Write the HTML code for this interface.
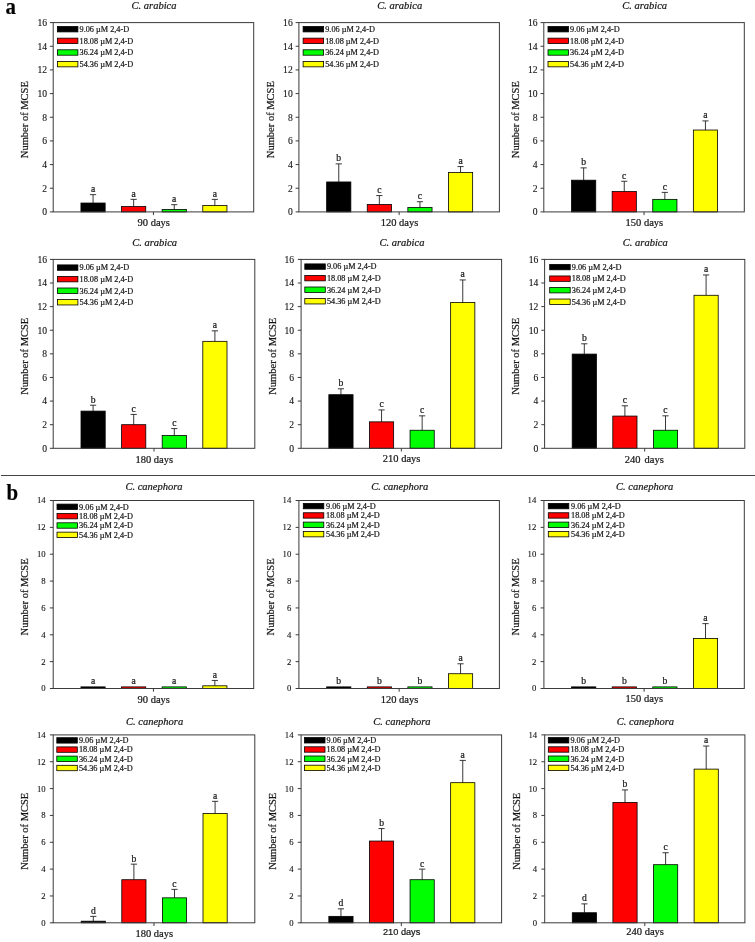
<!DOCTYPE html>
<html><head><meta charset="utf-8"><title>MCSE</title>
<style>html,body{margin:0;padding:0;background:#fff;}svg{display:block;}text{font-family:"Liberation Serif",serif;fill:#111;stroke:#222;stroke-width:0.22px;}.t{font-size:10.5px;}.i{font-style:italic;}.l{font-size:8.25px;}.k{font-size:9.6px;stroke-width:0.12px;}.kb{font-size:8.7px;}.m{font-size:9.6px;}.s{font-family:"Liberation Sans",sans-serif;font-size:9.2px;}.ax{stroke:#3a3a3a;stroke-width:1;fill:none;}.b{stroke:#000;stroke-width:0.8;}.e{stroke:#222;stroke-width:0.9;fill:none;}</style></head><body>
<svg width="755" height="942" viewBox="0 0 755 942">
<rect width="755" height="942" fill="#fff"/>
<line x1="1" y1="475.5" x2="755" y2="475.5" stroke="#444" stroke-width="1"/>
<g>
<path class="e" d="M93.05 203.03V194.63M89.95 194.63H96.15"/>
<rect class="b" x="80.95" y="203.03" width="24.2" height="8.87" fill="#000000"/>
<path class="e" d="M133.65 206.58V199.36M130.55 199.36H136.75"/>
<rect class="b" x="121.55" y="206.58" width="24.2" height="5.32" fill="#ff0000"/>
<path class="e" d="M174.25 209.42V204.68M171.15 204.68H177.35"/>
<rect class="b" x="162.15" y="209.42" width="24.2" height="2.48" fill="#00ff00"/>
<path class="e" d="M214.85 205.51V199.36M211.75 199.36H217.95"/>
<rect class="b" x="202.75" y="205.51" width="24.2" height="6.39" fill="#ffff00"/>
<rect class="ax" x="53.2" y="22.6" width="200.5" height="189.3"/>
<path class="ax" d="M49.9 211.9H53.2M49.9 188.24H53.2M49.9 164.57H53.2M49.9 140.91H53.2M49.9 117.25H53.2M49.9 93.59H53.2M49.9 69.92H53.2M49.9 46.26H53.2M49.9 22.6H53.2M153.45 211.9V215.1"/>
<rect class="b" x="57.4" y="26.5" width="20.5" height="5.4" fill="#000000"/>
<rect class="b" x="57.4" y="38.15" width="20.5" height="5.4" fill="#ff0000"/>
<rect class="b" x="57.4" y="49.8" width="20.5" height="5.4" fill="#00ff00"/>
<rect class="b" x="57.4" y="61.45" width="20.5" height="5.4" fill="#ffff00"/>
</g>
<g>
<path class="e" d="M338.75 181.97V163.87M335.65 163.87H341.85"/>
<rect class="b" x="326.65" y="181.97" width="24.2" height="29.93" fill="#000000"/>
<path class="e" d="M379.35 204.45V195.57M376.25 195.57H382.45"/>
<rect class="b" x="367.25" y="204.45" width="24.2" height="7.45" fill="#ff0000"/>
<path class="e" d="M419.95 207.52V201.73M416.85 201.73H423.05"/>
<rect class="b" x="407.85" y="207.52" width="24.2" height="4.38" fill="#00ff00"/>
<path class="e" d="M460.55 172.5V166.59M457.45 166.59H463.65"/>
<rect class="b" x="448.45" y="172.5" width="24.2" height="39.4" fill="#ffff00"/>
<rect class="ax" x="298.9" y="22.6" width="200.5" height="189.3"/>
<path class="ax" d="M295.6 211.9H298.9M295.6 188.24H298.9M295.6 164.57H298.9M295.6 140.91H298.9M295.6 117.25H298.9M295.6 93.59H298.9M295.6 69.92H298.9M295.6 46.26H298.9M295.6 22.6H298.9M399.15 211.9V215.1"/>
<rect class="b" x="303.1" y="26.5" width="20.5" height="5.4" fill="#000000"/>
<rect class="b" x="303.1" y="38.15" width="20.5" height="5.4" fill="#ff0000"/>
<rect class="b" x="303.1" y="49.8" width="20.5" height="5.4" fill="#00ff00"/>
<rect class="b" x="303.1" y="61.45" width="20.5" height="5.4" fill="#ffff00"/>
</g>
<g>
<path class="e" d="M583.65 180.19V167.89M580.55 167.89H586.75"/>
<rect class="b" x="571.55" y="180.19" width="24.2" height="31.71" fill="#000000"/>
<path class="e" d="M624.25 191.55V181.26M621.15 181.26H627.35"/>
<rect class="b" x="612.15" y="191.55" width="24.2" height="20.35" fill="#ff0000"/>
<path class="e" d="M664.85 199.36V192.38M661.75 192.38H667.95"/>
<rect class="b" x="652.75" y="199.36" width="24.2" height="12.54" fill="#00ff00"/>
<path class="e" d="M705.45 130.03V120.92M702.35 120.92H708.55"/>
<rect class="b" x="693.35" y="130.03" width="24.2" height="81.87" fill="#ffff00"/>
<rect class="ax" x="543.8" y="22.6" width="200.5" height="189.3"/>
<path class="ax" d="M540.5 211.9H543.8M540.5 188.24H543.8M540.5 164.57H543.8M540.5 140.91H543.8M540.5 117.25H543.8M540.5 93.59H543.8M540.5 69.92H543.8M540.5 46.26H543.8M540.5 22.6H543.8M644.05 211.9V215.1"/>
<rect class="b" x="548" y="26.5" width="20.5" height="5.4" fill="#000000"/>
<rect class="b" x="548" y="38.15" width="20.5" height="5.4" fill="#ff0000"/>
<rect class="b" x="548" y="49.8" width="20.5" height="5.4" fill="#00ff00"/>
<rect class="b" x="548" y="61.45" width="20.5" height="5.4" fill="#ffff00"/>
</g>
<g>
<path class="e" d="M93.1 411.11V405.21M90 405.21H96.2"/>
<rect class="b" x="81" y="411.11" width="24.2" height="37.19" fill="#000000"/>
<path class="e" d="M133.7 424.69V414.42M130.6 414.42H136.8"/>
<rect class="b" x="121.6" y="424.69" width="24.2" height="23.61" fill="#ff0000"/>
<path class="e" d="M174.3 435.55V428.58M171.2 428.58H177.4"/>
<rect class="b" x="162.2" y="435.55" width="24.2" height="12.75" fill="#00ff00"/>
<path class="e" d="M214.9 341.34V330.83M211.8 330.83H218"/>
<rect class="b" x="202.8" y="341.34" width="24.2" height="106.96" fill="#ffff00"/>
<rect class="ax" x="53.2" y="259.4" width="201.6" height="188.9"/>
<path class="ax" d="M49.9 448.3H53.2M49.9 424.69H53.2M49.9 401.07H53.2M49.9 377.46H53.2M49.9 353.85H53.2M49.9 330.24H53.2M49.9 306.62H53.2M49.9 283.01H53.2M49.9 259.4H53.2M154 448.3V451.5"/>
<rect class="b" x="57.4" y="264.9" width="20.5" height="5.4" fill="#000000"/>
<rect class="b" x="57.4" y="276.45" width="20.5" height="5.4" fill="#ff0000"/>
<rect class="b" x="57.4" y="288" width="20.5" height="5.4" fill="#00ff00"/>
<rect class="b" x="57.4" y="299.55" width="20.5" height="5.4" fill="#ffff00"/>
</g>
<g>
<path class="e" d="M340.95 394.7V388.8M337.85 388.8H344.05"/>
<rect class="b" x="328.85" y="394.7" width="24.2" height="53.6" fill="#000000"/>
<path class="e" d="M381.55 421.85V409.93M378.45 409.93H384.65"/>
<rect class="b" x="369.45" y="421.85" width="24.2" height="26.45" fill="#ff0000"/>
<path class="e" d="M422.15 430.24V415.83M419.05 415.83H425.25"/>
<rect class="b" x="410.05" y="430.24" width="24.2" height="18.06" fill="#00ff00"/>
<path class="e" d="M462.75 302.49V279.94M459.65 279.94H465.85"/>
<rect class="b" x="450.65" y="302.49" width="24.2" height="145.81" fill="#ffff00"/>
<rect class="ax" x="301.1" y="259.4" width="200.5" height="188.9"/>
<path class="ax" d="M297.8 448.3H301.1M297.8 424.69H301.1M297.8 401.07H301.1M297.8 377.46H301.1M297.8 353.85H301.1M297.8 330.24H301.1M297.8 306.62H301.1M297.8 283.01H301.1M297.8 259.4H301.1M401.35 448.3V451.5"/>
<rect class="b" x="304.8" y="263.9" width="20.5" height="5.4" fill="#000000"/>
<rect class="b" x="304.8" y="275.45" width="20.5" height="5.4" fill="#ff0000"/>
<rect class="b" x="304.8" y="287" width="20.5" height="5.4" fill="#00ff00"/>
<rect class="b" x="304.8" y="298.55" width="20.5" height="5.4" fill="#ffff00"/>
</g>
<g>
<path class="e" d="M584.3 354.09V343.81M581.2 343.81H587.4"/>
<rect class="b" x="572.2" y="354.09" width="24.2" height="94.21" fill="#000000"/>
<path class="e" d="M624.9 416.07V405.8M621.8 405.8H628"/>
<rect class="b" x="612.8" y="416.07" width="24.2" height="32.23" fill="#ff0000"/>
<path class="e" d="M665.5 430.24V415.83M662.4 415.83H668.6"/>
<rect class="b" x="653.4" y="430.24" width="24.2" height="18.06" fill="#00ff00"/>
<path class="e" d="M706.1 295.29V274.98M703 274.98H709.2"/>
<rect class="b" x="694" y="295.29" width="24.2" height="153.01" fill="#ffff00"/>
<rect class="ax" x="544.6" y="259.4" width="200.2" height="188.9"/>
<path class="ax" d="M541.3 448.3H544.6M541.3 424.69H544.6M541.3 401.07H544.6M541.3 377.46H544.6M541.3 353.85H544.6M541.3 330.24H544.6M541.3 306.62H544.6M541.3 283.01H544.6M541.3 259.4H544.6M644.7 448.3V451.5"/>
<rect class="b" x="549.7" y="264.4" width="20.5" height="5.4" fill="#000000"/>
<rect class="b" x="549.7" y="275.95" width="20.5" height="5.4" fill="#ff0000"/>
<rect class="b" x="549.7" y="287.5" width="20.5" height="5.4" fill="#00ff00"/>
<rect class="b" x="549.7" y="299.05" width="20.5" height="5.4" fill="#ffff00"/>
</g>
<g>
<rect class="b" x="80.95" y="686.89" width="24.2" height="1.61" fill="#000000"/>
<rect class="b" x="121.55" y="686.89" width="24.2" height="1.61" fill="#ff0000"/>
<rect class="b" x="162.15" y="686.89" width="24.2" height="1.61" fill="#00ff00"/>
<path class="e" d="M214.85 685.81V680.44M211.75 680.44H217.95"/>
<rect class="b" x="202.75" y="685.81" width="24.2" height="2.69" fill="#ffff00"/>
<rect class="ax" x="53.2" y="500.5" width="200.5" height="188"/>
<path class="ax" d="M49.9 688.5H53.2M49.9 661.64H53.2M49.9 634.79H53.2M49.9 607.93H53.2M49.9 581.07H53.2M49.9 554.21H53.2M49.9 527.36H53.2M49.9 500.5H53.2M153.45 688.5V691.7"/>
<rect class="b" x="57" y="504.1" width="20.5" height="5.4" fill="#000000"/>
<rect class="b" x="57" y="513.45" width="20.5" height="5.4" fill="#ff0000"/>
<rect class="b" x="57" y="522.8" width="20.5" height="5.4" fill="#00ff00"/>
<rect class="b" x="57" y="532.15" width="20.5" height="5.4" fill="#ffff00"/>
</g>
<g>
<rect class="b" x="326.65" y="686.89" width="24.2" height="1.61" fill="#000000"/>
<rect class="b" x="367.25" y="686.89" width="24.2" height="1.61" fill="#ff0000"/>
<rect class="b" x="407.85" y="686.89" width="24.2" height="1.61" fill="#00ff00"/>
<path class="e" d="M460.55 673.73V663.79M457.45 663.79H463.65"/>
<rect class="b" x="448.45" y="673.73" width="24.2" height="14.77" fill="#ffff00"/>
<rect class="ax" x="298.9" y="500.5" width="200.5" height="188"/>
<path class="ax" d="M295.6 688.5H298.9M295.6 661.64H298.9M295.6 634.79H298.9M295.6 607.93H298.9M295.6 581.07H298.9M295.6 554.21H298.9M295.6 527.36H298.9M295.6 500.5H298.9M399.15 688.5V691.7"/>
<rect class="b" x="303.3" y="503.4" width="20.5" height="5.4" fill="#000000"/>
<rect class="b" x="303.3" y="512.75" width="20.5" height="5.4" fill="#ff0000"/>
<rect class="b" x="303.3" y="522.1" width="20.5" height="5.4" fill="#00ff00"/>
<rect class="b" x="303.3" y="531.45" width="20.5" height="5.4" fill="#ffff00"/>
</g>
<g>
<rect class="b" x="571.6" y="686.89" width="24.2" height="1.61" fill="#000000"/>
<rect class="b" x="612.2" y="686.89" width="24.2" height="1.61" fill="#ff0000"/>
<rect class="b" x="652.8" y="686.89" width="24.2" height="1.61" fill="#00ff00"/>
<path class="e" d="M705.5 638.41V623.64M702.4 623.64H708.6"/>
<rect class="b" x="693.4" y="638.41" width="24.2" height="50.09" fill="#ffff00"/>
<rect class="ax" x="543.9" y="500.5" width="200.4" height="188"/>
<path class="ax" d="M540.6 688.5H543.9M540.6 661.64H543.9M540.6 634.79H543.9M540.6 607.93H543.9M540.6 581.07H543.9M540.6 554.21H543.9M540.6 527.36H543.9M540.6 500.5H543.9M644.1 688.5V691.7"/>
<rect class="b" x="548.3" y="503.4" width="20.5" height="5.4" fill="#000000"/>
<rect class="b" x="548.3" y="512.75" width="20.5" height="5.4" fill="#ff0000"/>
<rect class="b" x="548.3" y="522.1" width="20.5" height="5.4" fill="#00ff00"/>
<rect class="b" x="548.3" y="531.45" width="20.5" height="5.4" fill="#ffff00"/>
</g>
<g>
<path class="e" d="M93.3 921.19V916.36M90.2 916.36H96.4"/>
<rect class="b" x="81.2" y="921.19" width="24.2" height="1.61" fill="#000000"/>
<path class="e" d="M133.9 879.72V864.15M130.8 864.15H137"/>
<rect class="b" x="121.8" y="879.72" width="24.2" height="43.08" fill="#ff0000"/>
<path class="e" d="M174.5 897.84V889.38M171.4 889.38H177.6"/>
<rect class="b" x="162.4" y="897.84" width="24.2" height="24.96" fill="#00ff00"/>
<path class="e" d="M215.1 813.55V801.34M212 801.34H218.2"/>
<rect class="b" x="203" y="813.55" width="24.2" height="109.25" fill="#ffff00"/>
<rect class="ax" x="53.2" y="734.9" width="201.6" height="187.9"/>
<path class="ax" d="M49.9 922.8H53.2M49.9 895.96H53.2M49.9 869.11H53.2M49.9 842.27H53.2M49.9 815.43H53.2M49.9 788.59H53.2M49.9 761.74H53.2M49.9 734.9H53.2M154 922.8V926"/>
<rect class="b" x="56.8" y="737.7" width="20.5" height="5.4" fill="#000000"/>
<rect class="b" x="56.8" y="746.9" width="20.5" height="5.4" fill="#ff0000"/>
<rect class="b" x="56.8" y="756.1" width="20.5" height="5.4" fill="#00ff00"/>
<rect class="b" x="56.8" y="765.3" width="20.5" height="5.4" fill="#ffff00"/>
</g>
<g>
<path class="e" d="M340.95 916.36V908.84M337.85 908.84H344.05"/>
<rect class="b" x="328.85" y="916.36" width="24.2" height="6.44" fill="#000000"/>
<path class="e" d="M381.55 841.06V828.58M378.45 828.58H384.65"/>
<rect class="b" x="369.45" y="841.06" width="24.2" height="81.74" fill="#ff0000"/>
<path class="e" d="M422.15 879.72V869.11M419.05 869.11H425.25"/>
<rect class="b" x="410.05" y="879.72" width="24.2" height="43.08" fill="#00ff00"/>
<path class="e" d="M462.75 782.68V760.4M459.65 760.4H465.85"/>
<rect class="b" x="450.65" y="782.68" width="24.2" height="140.12" fill="#ffff00"/>
<rect class="ax" x="301.1" y="734.9" width="200.5" height="187.9"/>
<path class="ax" d="M297.8 922.8H301.1M297.8 895.96H301.1M297.8 869.11H301.1M297.8 842.27H301.1M297.8 815.43H301.1M297.8 788.59H301.1M297.8 761.74H301.1M297.8 734.9H301.1M401.35 922.8V926"/>
<rect class="b" x="304.5" y="737.6" width="20.5" height="5.4" fill="#000000"/>
<rect class="b" x="304.5" y="746.8" width="20.5" height="5.4" fill="#ff0000"/>
<rect class="b" x="304.5" y="756" width="20.5" height="5.4" fill="#00ff00"/>
<rect class="b" x="304.5" y="765.2" width="20.5" height="5.4" fill="#ffff00"/>
</g>
<g>
<path class="e" d="M584.4 912.73V903.88M581.3 903.88H587.5"/>
<rect class="b" x="572.3" y="912.73" width="24.2" height="10.07" fill="#000000"/>
<path class="e" d="M625 802.41V789.93M621.9 789.93H628.1"/>
<rect class="b" x="612.9" y="802.41" width="24.2" height="120.39" fill="#ff0000"/>
<path class="e" d="M665.6 864.69V852.74M662.5 852.74H668.7"/>
<rect class="b" x="653.5" y="864.69" width="24.2" height="58.11" fill="#00ff00"/>
<path class="e" d="M706.2 769.12V746.04M703.1 746.04H709.3"/>
<rect class="b" x="694.1" y="769.12" width="24.2" height="153.68" fill="#ffff00"/>
<rect class="ax" x="544.7" y="734.9" width="200.2" height="187.9"/>
<path class="ax" d="M541.4 922.8H544.7M541.4 895.96H544.7M541.4 869.11H544.7M541.4 842.27H544.7M541.4 815.43H544.7M541.4 788.59H544.7M541.4 761.74H544.7M541.4 734.9H544.7M644.8 922.8V926"/>
<rect class="b" x="548.3" y="737.6" width="20.5" height="5.4" fill="#000000"/>
<rect class="b" x="548.3" y="746.8" width="20.5" height="5.4" fill="#ff0000"/>
<rect class="b" x="548.3" y="756" width="20.5" height="5.4" fill="#00ff00"/>
<rect class="b" x="548.3" y="765.2" width="20.5" height="5.4" fill="#ffff00"/>
</g>
<g style="filter:grayscale(1)">
<text transform="translate(5.6 13.8) scale(0.95 1.08)" style="font-size:22px;font-weight:bold;fill:#000">a</text>
<text transform="translate(6.6 500.4) scale(0.95 1.07)" style="font-size:22px;font-weight:bold;fill:#000">b</text>
<text class="t i" text-anchor="middle" x="154.05" y="9.2">C. arabica</text>
<text class="t" text-anchor="middle" transform="translate(28 119.65) rotate(-90)">Number of MCSE</text>
<text class="m" text-anchor="middle" x="93.05" y="192.03">a</text>
<text class="m" text-anchor="middle" x="133.65" y="196.76">a</text>
<text class="m" text-anchor="middle" x="174.25" y="202.08">a</text>
<text class="m" text-anchor="middle" x="214.85" y="196.76">a</text>
<text class="k" text-anchor="end" x="47" y="215.2">0</text>
<text class="k" text-anchor="end" x="47" y="191.54">2</text>
<text class="k" text-anchor="end" x="47" y="167.88">4</text>
<text class="k" text-anchor="end" x="47" y="144.21">6</text>
<text class="k" text-anchor="end" x="47" y="120.55">8</text>
<text class="k" text-anchor="end" x="47" y="96.89">10</text>
<text class="k" text-anchor="end" x="47" y="73.22">12</text>
<text class="k" text-anchor="end" x="47" y="49.56">14</text>
<text class="k" text-anchor="end" x="47" y="25.9">16</text>
<text class="t" text-anchor="middle" x="153.75" y="226.4">90 days</text>
<text class="l" x="79.5" y="32">9.06 µM 2,4-D</text>
<text class="l" x="79.5" y="43.65">18.08 µM 2,4-D</text>
<text class="l" x="79.5" y="55.3">36.24 µM 2,4-D</text>
<text class="l" x="79.5" y="66.95">54.36 µM 2,4-D</text>
<text class="t i" text-anchor="middle" x="399.75" y="9.2">C. arabica</text>
<text class="t" text-anchor="middle" transform="translate(273.7 119.65) rotate(-90)">Number of MCSE</text>
<text class="m" text-anchor="middle" x="338.75" y="161.27">b</text>
<text class="m" text-anchor="middle" x="379.35" y="192.97">c</text>
<text class="m" text-anchor="middle" x="419.95" y="199.13">c</text>
<text class="m" text-anchor="middle" x="460.55" y="163.99">a</text>
<text class="k" text-anchor="end" x="292.7" y="215.2">0</text>
<text class="k" text-anchor="end" x="292.7" y="191.54">2</text>
<text class="k" text-anchor="end" x="292.7" y="167.88">4</text>
<text class="k" text-anchor="end" x="292.7" y="144.21">6</text>
<text class="k" text-anchor="end" x="292.7" y="120.55">8</text>
<text class="k" text-anchor="end" x="292.7" y="96.89">10</text>
<text class="k" text-anchor="end" x="292.7" y="73.22">12</text>
<text class="k" text-anchor="end" x="292.7" y="49.56">14</text>
<text class="k" text-anchor="end" x="292.7" y="25.9">16</text>
<text class="t" text-anchor="middle" x="399.45" y="226.4">120 days</text>
<text class="l" x="325.2" y="32">9.06 µM 2,4-D</text>
<text class="l" x="325.2" y="43.65">18.08 µM 2,4-D</text>
<text class="l" x="325.2" y="55.3">36.24 µM 2,4-D</text>
<text class="l" x="325.2" y="66.95">54.36 µM 2,4-D</text>
<text class="t i" text-anchor="middle" x="644.65" y="9.2">C. arabica</text>
<text class="t" text-anchor="middle" transform="translate(518.6 119.65) rotate(-90)">Number of MCSE</text>
<text class="m" text-anchor="middle" x="583.65" y="165.29">b</text>
<text class="m" text-anchor="middle" x="624.25" y="178.66">c</text>
<text class="m" text-anchor="middle" x="664.85" y="189.78">c</text>
<text class="m" text-anchor="middle" x="705.45" y="118.32">a</text>
<text class="k" text-anchor="end" x="537.6" y="215.2">0</text>
<text class="k" text-anchor="end" x="537.6" y="191.54">2</text>
<text class="k" text-anchor="end" x="537.6" y="167.88">4</text>
<text class="k" text-anchor="end" x="537.6" y="144.21">6</text>
<text class="k" text-anchor="end" x="537.6" y="120.55">8</text>
<text class="k" text-anchor="end" x="537.6" y="96.89">10</text>
<text class="k" text-anchor="end" x="537.6" y="73.22">12</text>
<text class="k" text-anchor="end" x="537.6" y="49.56">14</text>
<text class="k" text-anchor="end" x="537.6" y="25.9">16</text>
<text class="t" text-anchor="middle" x="644.35" y="226.4">150 days</text>
<text class="l" x="570.1" y="32">9.06 µM 2,4-D</text>
<text class="l" x="570.1" y="43.65">18.08 µM 2,4-D</text>
<text class="l" x="570.1" y="55.3">36.24 µM 2,4-D</text>
<text class="l" x="570.1" y="66.95">54.36 µM 2,4-D</text>
<text class="t i" text-anchor="middle" x="154.6" y="245.6">C. arabica</text>
<text class="t" text-anchor="middle" transform="translate(28 356.25) rotate(-90)">Number of MCSE</text>
<text class="m" text-anchor="middle" x="93.1" y="402.61">b</text>
<text class="m" text-anchor="middle" x="133.7" y="411.82">c</text>
<text class="m" text-anchor="middle" x="174.3" y="425.98">c</text>
<text class="m" text-anchor="middle" x="214.9" y="328.23">a</text>
<text class="k" text-anchor="end" x="47" y="451.6">0</text>
<text class="k" text-anchor="end" x="47" y="427.99">2</text>
<text class="k" text-anchor="end" x="47" y="404.38">4</text>
<text class="k" text-anchor="end" x="47" y="380.76">6</text>
<text class="k" text-anchor="end" x="47" y="357.15">8</text>
<text class="k" text-anchor="end" x="47" y="333.54">10</text>
<text class="k" text-anchor="end" x="47" y="309.93">12</text>
<text class="k" text-anchor="end" x="47" y="286.31">14</text>
<text class="k" text-anchor="end" x="47" y="262.7">16</text>
<text class="t" text-anchor="middle" x="154.3" y="462.6">180 days</text>
<text class="l" x="79.5" y="270.4">9.06 µM 2,4-D</text>
<text class="l" x="79.5" y="281.95">18.08 µM 2,4-D</text>
<text class="l" x="79.5" y="293.5">36.24 µM 2,4-D</text>
<text class="l" x="79.5" y="305.05">54.36 µM 2,4-D</text>
<text class="t i" text-anchor="middle" x="401.95" y="245.6">C. arabica</text>
<text class="t" text-anchor="middle" transform="translate(275.9 356.25) rotate(-90)">Number of MCSE</text>
<text class="m" text-anchor="middle" x="340.95" y="386.2">b</text>
<text class="m" text-anchor="middle" x="381.55" y="407.33">c</text>
<text class="m" text-anchor="middle" x="422.15" y="413.23">c</text>
<text class="m" text-anchor="middle" x="462.75" y="277.34">a</text>
<text class="k" text-anchor="end" x="294.1" y="451.6">0</text>
<text class="k" text-anchor="end" x="294.1" y="427.99">2</text>
<text class="k" text-anchor="end" x="294.1" y="404.38">4</text>
<text class="k" text-anchor="end" x="294.1" y="380.76">6</text>
<text class="k" text-anchor="end" x="294.1" y="357.15">8</text>
<text class="k" text-anchor="end" x="294.1" y="333.54">10</text>
<text class="k" text-anchor="end" x="294.1" y="309.93">12</text>
<text class="k" text-anchor="end" x="294.1" y="286.31">14</text>
<text class="k" text-anchor="end" x="294.1" y="262.7">16</text>
<text class="t" text-anchor="middle" x="401.65" y="462.1">210 days</text>
<text class="l" x="326.9" y="269.4">9.06 µM 2,4-D</text>
<text class="l" x="326.9" y="280.95">18.08 µM 2,4-D</text>
<text class="l" x="326.9" y="292.5">36.24 µM 2,4-D</text>
<text class="l" x="326.9" y="304.05">54.36 µM 2,4-D</text>
<text class="t i" text-anchor="middle" x="645.3" y="245.6">C. arabica</text>
<text class="t" text-anchor="middle" transform="translate(519.4 356.25) rotate(-90)">Number of MCSE</text>
<text class="m" text-anchor="middle" x="584.3" y="341.21">b</text>
<text class="m" text-anchor="middle" x="624.9" y="403.2">c</text>
<text class="m" text-anchor="middle" x="665.5" y="413.23">c</text>
<text class="m" text-anchor="middle" x="706.1" y="272.38">a</text>
<text class="k" text-anchor="end" x="538.4" y="451.6">0</text>
<text class="k" text-anchor="end" x="538.4" y="427.99">2</text>
<text class="k" text-anchor="end" x="538.4" y="404.38">4</text>
<text class="k" text-anchor="end" x="538.4" y="380.76">6</text>
<text class="k" text-anchor="end" x="538.4" y="357.15">8</text>
<text class="k" text-anchor="end" x="538.4" y="333.54">10</text>
<text class="k" text-anchor="end" x="538.4" y="309.93">12</text>
<text class="k" text-anchor="end" x="538.4" y="286.31">14</text>
<text class="k" text-anchor="end" x="538.4" y="262.7">16</text>
<text class="t" text-anchor="middle" style="word-spacing:1.4px" x="644.3" y="462.6">240 days</text>
<text class="l" x="571.8" y="269.9">9.06 µM 2,4-D</text>
<text class="l" x="571.8" y="281.45">18.08 µM 2,4-D</text>
<text class="l" x="571.8" y="293">36.24 µM 2,4-D</text>
<text class="l" x="571.8" y="304.55">54.36 µM 2,4-D</text>
<text class="t i" text-anchor="middle" x="154.05" y="490">C. canephora</text>
<text class="t" text-anchor="middle" transform="translate(28 596.9) rotate(-90)">Number of MCSE</text>
<text class="m" text-anchor="middle" x="93.05" y="683.79">a</text>
<text class="m" text-anchor="middle" x="133.65" y="683.79">a</text>
<text class="m" text-anchor="middle" x="174.25" y="683.79">a</text>
<text class="m" text-anchor="middle" x="214.85" y="677.84">a</text>
<text class="k kb" text-anchor="end" x="45.6" y="691.45">0</text>
<text class="k kb" text-anchor="end" x="45.6" y="664.59">2</text>
<text class="k kb" text-anchor="end" x="45.6" y="637.74">4</text>
<text class="k kb" text-anchor="end" x="45.6" y="610.88">6</text>
<text class="k kb" text-anchor="end" x="45.6" y="584.02">8</text>
<text class="k kb" text-anchor="end" x="45.6" y="557.16">10</text>
<text class="k kb" text-anchor="end" x="45.6" y="530.31">12</text>
<text class="k kb" text-anchor="end" x="45.6" y="503.45">14</text>
<text class="t" text-anchor="middle" x="153.75" y="702.5">90 days</text>
<text class="l" x="79.1" y="509.6">9.06 µM 2,4-D</text>
<text class="l" x="79.1" y="518.95">18.08 µM 2,4-D</text>
<text class="l" x="79.1" y="528.3">36.24 µM 2,4-D</text>
<text class="l" x="79.1" y="537.65">54.36 µM 2,4-D</text>
<text class="t i" text-anchor="middle" x="399.75" y="490">C. canephora</text>
<text class="t" text-anchor="middle" transform="translate(273.7 596.9) rotate(-90)">Number of MCSE</text>
<text class="m" text-anchor="middle" x="338.75" y="683.79">b</text>
<text class="m" text-anchor="middle" x="379.35" y="683.79">b</text>
<text class="m" text-anchor="middle" x="419.95" y="683.79">b</text>
<text class="m" text-anchor="middle" x="460.55" y="661.19">a</text>
<text class="k kb" text-anchor="end" x="291.3" y="691.45">0</text>
<text class="k kb" text-anchor="end" x="291.3" y="664.59">2</text>
<text class="k kb" text-anchor="end" x="291.3" y="637.74">4</text>
<text class="k kb" text-anchor="end" x="291.3" y="610.88">6</text>
<text class="k kb" text-anchor="end" x="291.3" y="584.02">8</text>
<text class="k kb" text-anchor="end" x="291.3" y="557.16">10</text>
<text class="k kb" text-anchor="end" x="291.3" y="530.31">12</text>
<text class="k kb" text-anchor="end" x="291.3" y="503.45">14</text>
<text class="t" text-anchor="middle" x="399.45" y="702.5">120 days</text>
<text class="l" x="326" y="508.9">9.06 µM 2,4-D</text>
<text class="l" x="326" y="518.25">18.08 µM 2,4-D</text>
<text class="l" x="326" y="527.6">36.24 µM 2,4-D</text>
<text class="l" x="326" y="536.95">54.36 µM 2,4-D</text>
<text class="t i" text-anchor="middle" x="644.7" y="490">C. canephora</text>
<text class="t" text-anchor="middle" transform="translate(518.7 596.9) rotate(-90)">Number of MCSE</text>
<text class="m" text-anchor="middle" x="583.7" y="683.79">b</text>
<text class="m" text-anchor="middle" x="624.3" y="683.79">b</text>
<text class="m" text-anchor="middle" x="664.9" y="683.79">b</text>
<text class="m" text-anchor="middle" x="705.5" y="621.04">a</text>
<text class="k kb" text-anchor="end" x="536.3" y="691.45">0</text>
<text class="k kb" text-anchor="end" x="536.3" y="664.59">2</text>
<text class="k kb" text-anchor="end" x="536.3" y="637.74">4</text>
<text class="k kb" text-anchor="end" x="536.3" y="610.88">6</text>
<text class="k kb" text-anchor="end" x="536.3" y="584.02">8</text>
<text class="k kb" text-anchor="end" x="536.3" y="557.16">10</text>
<text class="k kb" text-anchor="end" x="536.3" y="530.31">12</text>
<text class="k kb" text-anchor="end" x="536.3" y="503.45">14</text>
<text class="t" text-anchor="middle" x="644.4" y="702.1">150 days</text>
<text class="l" x="571" y="508.9">9.06 µM 2,4-D</text>
<text class="l" x="571" y="518.25">18.08 µM 2,4-D</text>
<text class="l" x="571" y="527.6">36.24 µM 2,4-D</text>
<text class="l" x="571" y="536.95">54.36 µM 2,4-D</text>
<text class="t i" text-anchor="middle" x="154.6" y="724.9">C. canephora</text>
<text class="t" text-anchor="middle" transform="translate(28 831.25) rotate(-90)">Number of MCSE</text>
<text class="m" text-anchor="middle" x="93.3" y="913.76">d</text>
<text class="m" text-anchor="middle" x="133.9" y="861.55">b</text>
<text class="m" text-anchor="middle" x="174.5" y="886.78">c</text>
<text class="m" text-anchor="middle" x="215.1" y="798.74">a</text>
<text class="k kb" text-anchor="end" x="45.6" y="925.75">0</text>
<text class="k kb" text-anchor="end" x="45.6" y="898.91">2</text>
<text class="k kb" text-anchor="end" x="45.6" y="872.06">4</text>
<text class="k kb" text-anchor="end" x="45.6" y="845.22">6</text>
<text class="k kb" text-anchor="end" x="45.6" y="818.38">8</text>
<text class="k kb" text-anchor="end" x="45.6" y="791.54">10</text>
<text class="k kb" text-anchor="end" x="45.6" y="764.69">12</text>
<text class="k kb" text-anchor="end" x="45.6" y="737.85">14</text>
<text class="t" text-anchor="middle" x="154.3" y="936.5">180 days</text>
<text class="l" x="78.9" y="743.2">9.06 µM 2,4-D</text>
<text class="l" x="78.9" y="752.4">18.08 µM 2,4-D</text>
<text class="l" x="78.9" y="761.6">36.24 µM 2,4-D</text>
<text class="l" x="78.9" y="770.8">54.36 µM 2,4-D</text>
<text class="t i" text-anchor="middle" x="401.95" y="724.9">C. canephora</text>
<text class="t" text-anchor="middle" transform="translate(275.9 831.25) rotate(-90)">Number of MCSE</text>
<text class="m" text-anchor="middle" x="340.95" y="906.24">d</text>
<text class="m" text-anchor="middle" x="381.55" y="825.98">b</text>
<text class="m" text-anchor="middle" x="422.15" y="866.51">c</text>
<text class="m" text-anchor="middle" x="462.75" y="757.8">a</text>
<text class="k kb" text-anchor="end" x="293.5" y="925.75">0</text>
<text class="k kb" text-anchor="end" x="293.5" y="898.91">2</text>
<text class="k kb" text-anchor="end" x="293.5" y="872.06">4</text>
<text class="k kb" text-anchor="end" x="293.5" y="845.22">6</text>
<text class="k kb" text-anchor="end" x="293.5" y="818.38">8</text>
<text class="k kb" text-anchor="end" x="293.5" y="791.54">10</text>
<text class="k kb" text-anchor="end" x="293.5" y="764.69">12</text>
<text class="k kb" text-anchor="end" x="293.5" y="737.85">14</text>
<text class="s" text-anchor="middle" x="401.65" y="935.1">210 days</text>
<text class="l" x="326.6" y="743.1">9.06 µM 2,4-D</text>
<text class="l" x="326.6" y="752.3">18.08 µM 2,4-D</text>
<text class="l" x="326.6" y="761.5">36.24 µM 2,4-D</text>
<text class="l" x="326.6" y="770.7">54.36 µM 2,4-D</text>
<text class="t i" text-anchor="middle" x="645.4" y="724.9">C. canephora</text>
<text class="t" text-anchor="middle" transform="translate(519.5 831.25) rotate(-90)">Number of MCSE</text>
<text class="m" text-anchor="middle" x="584.4" y="901.28">d</text>
<text class="m" text-anchor="middle" x="625" y="787.33">b</text>
<text class="m" text-anchor="middle" x="665.6" y="850.14">c</text>
<text class="m" text-anchor="middle" x="706.2" y="743.44">a</text>
<text class="k kb" text-anchor="end" x="537.1" y="925.75">0</text>
<text class="k kb" text-anchor="end" x="537.1" y="898.91">2</text>
<text class="k kb" text-anchor="end" x="537.1" y="872.06">4</text>
<text class="k kb" text-anchor="end" x="537.1" y="845.22">6</text>
<text class="k kb" text-anchor="end" x="537.1" y="818.38">8</text>
<text class="k kb" text-anchor="end" x="537.1" y="791.54">10</text>
<text class="k kb" text-anchor="end" x="537.1" y="764.69">12</text>
<text class="k kb" text-anchor="end" x="537.1" y="737.85">14</text>
<text class="t" text-anchor="middle" x="645.1" y="935.2">240 days</text>
<text class="l" x="570.4" y="743.1">9.06 µM 2,4-D</text>
<text class="l" x="570.4" y="752.3">18.08 µM 2,4-D</text>
<text class="l" x="570.4" y="761.5">36.24 µM 2,4-D</text>
<text class="l" x="570.4" y="770.7">54.36 µM 2,4-D</text>
</g>
</svg></body></html>
